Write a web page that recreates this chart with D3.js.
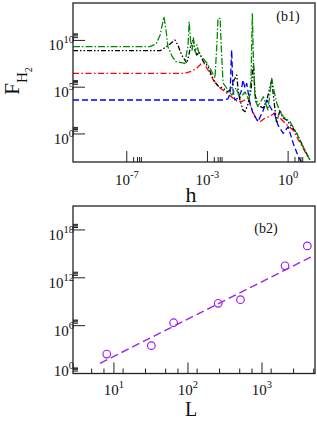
<!DOCTYPE html>
<html>
<head>
<meta charset="utf-8">
<script src="https://cdn.jsdelivr.net/npm/d3@7"></script>
<style>
    body { margin: 0; background: #fff; }
    svg { display: block; font-family: "Liberation Serif", "DejaVu Serif", serif; }
</style>
</head>
<body>
<script>
// ! DATA ! //
// ^ panel (b1): curves as [log10 h, log10 F_H2] ^ //
const greenCurve = [
    [-8, 9.33], [-5.14, 9.33], [-4.91, 9.62], [-4.76, 10.58], [-4.62, 12.54], [-4.54, 11.11], [-4.47, 9.33],
    [-4.32, 8.33], [-4.17, 7.72], [-3.84, 7.55], [-3.72, 9.51], [-3.68, 12.0], [-3.63, 10.04], [-3.57, 8.97],
    [-3.52, 10.26], [-3.46, 8.76], [-3.39, 9.51], [-3.31, 8.55], [-3.17, 8.12], [-3.02, 7.58], [-2.87, 6.84],
    [-2.72, 5.98], [-2.64, 10.04], [-2.61, 12.36], [-2.53, 12.36], [-2.48, 8.97], [-2.42, 5.45], [-2.24, 4.7],
    [-2.09, 4.16], [-1.94, 4.91], [-1.79, 3.84], [-1.6, 4.48], [-1.45, 3.63], [-1.38, 5.77], [-1.33, 12.9],
    [-1.29, 7.9], [-1.23, 3.63], [-1.12, 2.91], [-0.92, 3.98], [-0.75, 2.56], [-0.61, 5.95], [-0.53, 4.7],
    [-0.42, 3.28], [-0.3, 2.35], [-0.18, 1.84], [0.07, 1.31], [0.32, 0.07], [0.56, -1.36], [0.81, -2.79]
];
const blackCurve = [
    [-8, 8.9], [-4.76, 8.9], [-4.54, 9.3], [-4.39, 9.62], [-4.21, 10.04], [-4.1, 9.51], [-3.96, 8.44],
    [-3.77, 7.58], [-3.69, 8.44], [-3.61, 9.62], [-3.53, 10.04], [-3.46, 8.97], [-3.4, 8.44], [-3.31, 8.76],
    [-3.15, 7.72], [-2.98, 7.26], [-2.78, 5.77], [-2.61, 5.13], [-2.41, 4.88], [-2.24, 4.48], [-2.09, 4.91],
    [-2.01, 5.77], [-1.91, 6.3], [-1.86, 4.7], [-1.79, 3.63], [-1.68, 2.56], [-1.6, 2.38], [-1.49, 3.2],
    [-1.38, 4.7], [-1.29, 7.55], [-1.23, 4.16], [-1.12, 3.09], [-0.93, 2.77], [-0.79, 3.63], [-0.61, 5.77],
    [-0.53, 3.63], [-0.43, 1.17], [-0.3, 2.56], [-0.19, 1.7], [-0.05, 1.49], [0.32, 0.07], [0.56, -1.36], [0.81, -2.79]
];
const redCurve = [
    [-8, 6.48], [-3.83, 6.48], [-3.57, 6.73], [-3.39, 7.05], [-3.24, 7.48], [-3.13, 7.55], [-2.98, 6.84],
    [-2.78, 5.77], [-2.53, 4.91], [-2.28, 4.35], [-2.04, 3.81], [-1.86, 3.42], [-1.68, 3.52], [-1.49, 3.84],
    [-1.34, 2.56], [-1.17, 1.49], [-1.05, 1.28], [-0.86, 1.7], [-0.67, 1.92], [-0.49, 2.24], [-0.3, 1.7],
    [-0.08, 1.06], [0.18, 0.42], [0.55, -1.5], [0.74, -2.47]
];
const blueCurve = [
    [-8, 3.63], [-2.38, 3.63], [-2.24, 3.74], [-2.16, 4.27], [-2.1, 8.97], [-2.05, 4.7], [-1.98, 3.63],
    [-1.86, 3.84], [-1.75, 4.48], [-1.68, 5.77], [-1.6, 4.91], [-1.54, 5.41], [-1.42, 3.31], [-1.31, 2.24],
    [-1.12, 1.31], [-0.92, 2.56], [-0.79, 3.63], [-0.67, 2.91], [-0.49, 2.03], [-0.38, 0.96], [-0.18, 0.07],
    [0.0, 0.77], [0.19, -1.0], [0.38, -2.43], [0.5, -3.0]
];
const topXTicks = [1e-6, 1e-3, 1];
const topXTickExps = ["-7", "-3", "0"];
const topXMinorBases = [1e-6, 1e-3, 1];
const topXMinorFactors = [1.8, 2.5, 3, 3.5];
const topYTicks = [1, 1e5, 1e10];
const topYTickExps = ["0", "5", "10"];

// ^ panel (b2) ^ //
const sizesL = [8, 32, 64, 256, 512, 2048, 4096];
const valuesF = [2.75e2, 3.1e3, 2.3e6, 6.3e8, 1.8e9, 3.2e13, 1.0e16];
const fitL = [6.5, 4890];
const fitF = [19, 5.4e14];
const bottomXTicks = [10, 100, 1000];
const bottomXTickExps = ["1", "2", "3"];
const bottomXMinorBases = [1, 10, 100, 1000];
const bottomXMinorFactors = [1.33, 2.67, 5, 7.33];
const bottomYTicks = [1, 1e6, 1e12, 1e18];
const bottomYTickExps = ["0", "6", "12", "18"];

// ! SVG ! //
const svg = d3.select("body").append("svg").attr("width", 317).attr("height", 421);

const frameColor = "#222";

const drawFrame = (box) => {
    svg.append("rect")
        .attr("x", box.left).attr("y", box.top)
        .attr("width", box.right - box.left).attr("height", box.bottom - box.top)
        .attr("fill", "none").attr("stroke", frameColor).attr("stroke-width", 1.3);
};

const addPowerLabel = (sel, exp, mainSize, supSize) => {
    sel.append("tspan").attr("font-size", mainSize).text("10");
    sel.append("tspan").attr("font-size", supSize).attr("dy", -7).text(exp);
};

// ^ ticks for log axes (inward, grace style) ^ //
const drawXTicks = (box, x, majors, exps, minorBases, minorFactors, labelY) => {
    const g = svg.append("g");
    const [d0, d1] = x.domain();
    majors.forEach((v, i) => {
        g.append("line").attr("x1", x(v)).attr("x2", x(v))
            .attr("y1", box.bottom).attr("y2", box.bottom - 11)
            .attr("stroke", frameColor).attr("stroke-width", 1);
        const t = g.append("text").attr("x", x(v)).attr("y", labelY).attr("text-anchor", "middle").attr("fill", "#111");
        addPowerLabel(t, exps[i], 15, 10.5);
    });
    minorBases.forEach((b) => {
        minorFactors.forEach((k) => {
            const v = k * b;
            if (v <= d0 || v >= d1) return;
            g.append("line").attr("x1", x(v)).attr("x2", x(v))
                .attr("y1", box.bottom).attr("y2", box.bottom - 5)
                .attr("stroke", frameColor).attr("stroke-width", 1);
        });
    });
};

const drawYTicks = (box, y, majors, exps, maxBaseline) => {
    const g = svg.append("g");
    majors.forEach((v, i) => {
        g.append("line").attr("x1", box.left).attr("x2", box.left + 12)
            .attr("y1", y(v)).attr("y2", y(v))
            .attr("stroke", frameColor).attr("stroke-width", 1);
        [2, 3, 4, 5].forEach((k) => {
            g.append("line").attr("x1", box.left).attr("x2", box.left + 5)
                .attr("y1", y(k * v)).attr("y2", y(k * v))
                .attr("stroke", frameColor).attr("stroke-width", 1);
        });
        const t = g.append("text").attr("x", box.left + 1).attr("y", Math.min(y(v) + 10, maxBaseline))
            .attr("text-anchor", "end").attr("fill", "#111");
        addPowerLabel(t, exps[i], 15, 10.5);
    });
};

// ! PANEL b1 ! //
const box1 = { left: 73, right: 315, top: 3, bottom: 162 };
const x1 = d3.scaleLog().domain([1e-8, 1e1]).range([box1.left, box1.right]);
const y1 = d3.scaleLog().domain([1e-3, 1e14]).range([box1.bottom, box1.top]);

svg.append("clipPath").attr("id", "clip1").append("rect")
    .attr("x", box1.left).attr("y", box1.top)
    .attr("width", box1.right - box1.left).attr("height", box1.bottom - box1.top);

const curveLine = d3.line().x((d) => x1(10 ** d[0])).y((d) => y1(10 ** d[1]));

const curves = [
    { data: redCurve, color: "#ff0000", dash: "6,2.5,1.5,2.5" },
    { data: blueCurve, color: "#0000ff", dash: "6,3" },
    { data: blackCurve, color: "#000000", dash: "5,2,1.5,2,1.5,2" },
    { data: greenCurve, color: "#008b00", dash: "7,2,1.5,2" },
];

const curveGroup = svg.append("g").attr("clip-path", "url(#clip1)");
curves.forEach((c) => {
    curveGroup.append("path").datum(c.data)
        .attr("d", curveLine)
        .attr("fill", "none")
        .attr("stroke", c.color)
        .attr("stroke-width", 1.3)
        .attr("stroke-dasharray", c.dash)
        .attr("stroke-linejoin", "round");
});

drawFrame(box1);
drawXTicks(box1, x1, topXTicks, topXTickExps, topXMinorBases, topXMinorFactors, 185);
drawYTicks(box1, y1, topYTicks, topYTickExps, 999);

svg.append("text").attr("x", 288).attr("y", 21).attr("text-anchor", "middle")
    .attr("font-size", 14).attr("fill", "#111").text("(b1)");

svg.append("text").attr("x", (box1.left + box1.right) / 2 - 3).attr("y", 202).attr("text-anchor", "middle")
    .attr("font-size", 22).attr("fill", "#111").text("h");

const yLabel = svg.append("text").attr("transform", "translate(19,81) rotate(-90)")
    .attr("text-anchor", "middle").attr("fill", "#111");
yLabel.append("tspan").attr("font-size", 21).text("F");
yLabel.append("tspan").attr("font-size", 15).attr("dy", 8).text("H");
yLabel.append("tspan").attr("font-size", 10).attr("dy", 5).text("2");

// ! PANEL b2 ! //
const box2 = { left: 73, right: 315, top: 206, bottom: 373.5 };
const x2 = d3.scaleLog().domain([2.8, 5200]).range([box2.left, box2.right]);
const y2 = d3.scaleLog().domain([1, 1e21]).range([box2.bottom, box2.top]);

const purple = "#a020f0";

svg.append("line")
    .attr("x1", x2(fitL[0])).attr("y1", y2(fitF[0]))
    .attr("x2", x2(fitL[1])).attr("y2", y2(fitF[1]))
    .attr("stroke", purple).attr("stroke-width", 1.4).attr("stroke-dasharray", "8,4");

svg.append("g").selectAll("circle")
    .data(sizesL.map((L, i) => [L, valuesF[i]]))
    .enter()
    .append("circle")
    .attr("cx", (d) => x2(d[0]))
    .attr("cy", (d) => y2(d[1]))
    .attr("r", 3.8)
    .attr("fill", "none")
    .attr("stroke", purple)
    .attr("stroke-width", 1.2);

drawFrame(box2);
drawXTicks(box2, x2, bottomXTicks, bottomXTickExps, bottomXMinorBases, bottomXMinorFactors, 394.5);
drawYTicks(box2, y2, bottomYTicks, bottomYTickExps, 376);

svg.append("text").attr("x", 266).attr("y", 233).attr("text-anchor", "middle")
    .attr("font-size", 14).attr("fill", "#111").text("(b2)");

svg.append("text").attr("x", (box2.left + box2.right) / 2 - 3).attr("y", 416).attr("text-anchor", "middle")
    .attr("font-size", 20).attr("fill", "#111").text("L");
</script>
</body>
</html>
